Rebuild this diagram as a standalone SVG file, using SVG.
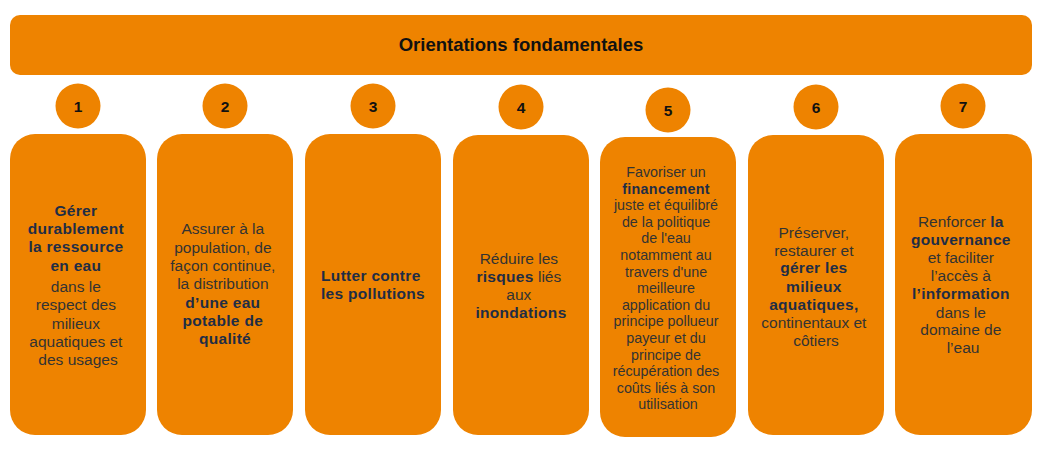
<svg xmlns="http://www.w3.org/2000/svg" width="1040" height="454" viewBox="0 0 1040 454">
<style>
.o{fill:#EE8300}
text{font-family:"Liberation Sans",Arial,sans-serif;text-anchor:middle}
.t{font-size:15.5px;fill:#333333}
.s{font-size:14.3px;fill:#333333}
.b{font-weight:bold;fill:#1F2D45;letter-spacing:0.3px}
.n{font-size:15.5px;font-weight:bold;fill:#111111}
.h{font-size:18.5px;font-weight:bold;fill:#111111}
</style>
<rect width="1040" height="454" fill="#ffffff"/>
<g id="header">
<rect class="o" x="10" y="15" width="1022" height="60" rx="10"/>
<text class="h" x="521" y="51">Orientations fondamentales</text>
</g>
<g id="connectors"></g>
<g id="n1">
<circle class="o" cx="78" cy="106" r="22.5"/>
<text class="n" x="78" y="111.5">1</text>
<rect class="o" x="10" y="134" width="136" height="301" rx="25"/>
<text class="t" x="78">
<tspan class="b" x="78" y="215.5">Gérer</tspan>
<tspan class="b" x="78" y="233.5">durablement</tspan>
<tspan class="b" x="78" y="251.5">la ressource</tspan>
<tspan class="b" x="78" y="270.5">en eau</tspan>
<tspan x="78" y="291.5">dans le</tspan>
<tspan x="78" y="309.5">respect des</tspan>
<tspan x="78" y="328.5">milieux</tspan>
<tspan x="78" y="346.5">aquatiques et</tspan>
<tspan x="78" y="364.5">des usages</tspan>
</text>
</g>
<g id="n2">
<circle class="o" cx="225" cy="106" r="22.5"/>
<text class="n" x="225" y="111.5">2</text>
<rect class="o" x="157" y="134" width="136" height="301" rx="25"/>
<text class="t" x="225">
<tspan x="225" y="233.5">Assurer à la</tspan>
<tspan x="225" y="252.5">population, de</tspan>
<tspan x="225" y="270.5">façon continue,</tspan>
<tspan x="225" y="288.5">la distribution</tspan>
<tspan class="b" x="225" y="307.5">d’une eau</tspan>
<tspan class="b" x="225" y="325.5">potable de</tspan>
<tspan class="b" x="225" y="343.5">qualité</tspan>
</text>
</g>
<g id="n3">
<circle class="o" cx="373" cy="106" r="22.5"/>
<text class="n" x="373" y="111.5">3</text>
<rect class="o" x="305" y="134" width="136" height="301" rx="25"/>
<text class="t" x="373">
<tspan class="b" x="373" y="280.5">Lutter contre</tspan>
<tspan class="b" x="373" y="298.5">les pollutions</tspan>
</text>
</g>
<g id="n4">
<circle class="o" cx="521" cy="107" r="22.5"/>
<text class="n" x="521" y="112.5">4</text>
<rect class="o" x="453" y="135" width="136" height="300" rx="25"/>
<text class="t" x="521">
<tspan x="521" y="263.5">Réduire les</tspan>
<tspan x="521" y="281.5"><tspan class="b">risques</tspan> liés</tspan>
<tspan x="521" y="299.5">aux</tspan>
<tspan class="b" x="521" y="317.5">inondations</tspan>
</text>
</g>
<g id="n5">
<circle class="o" cx="668" cy="110" r="22.5"/>
<text class="n" x="668" y="115.5">5</text>
<rect class="o" x="600" y="137" width="136" height="300" rx="25"/>
<text class="s" x="668">
<tspan x="668" y="177">Favoriser un</tspan>
<tspan class="b" x="668" y="193.6">financement</tspan>
<tspan x="668" y="210.2">juste et équilibré</tspan>
<tspan x="668" y="226.8">de la politique</tspan>
<tspan x="668" y="243.4">de l'eau</tspan>
<tspan x="668" y="260">notamment au</tspan>
<tspan x="668" y="276.6">travers d'une</tspan>
<tspan x="668" y="293.2">meilleure</tspan>
<tspan x="668" y="309.8">application du</tspan>
<tspan x="668" y="326.4">principe pollueur</tspan>
<tspan x="668" y="343">payeur et du</tspan>
<tspan x="668" y="359.6">principe de</tspan>
<tspan x="668" y="376.2">récupération des</tspan>
<tspan x="668" y="392.8">coûts liés à son</tspan>
<tspan x="668" y="409.4">utilisation</tspan>
</text>
</g>
<g id="n6">
<circle class="o" cx="816" cy="107" r="22.5"/>
<text class="n" x="816" y="112.5">6</text>
<rect class="o" x="748" y="135" width="136" height="300" rx="25"/>
<text class="t" x="816">
<tspan x="816" y="237.5">Préserver,</tspan>
<tspan x="816" y="255.5">restaurer et</tspan>
<tspan class="b" x="816" y="272.5">gérer les</tspan>
<tspan class="b" x="816" y="291.5">milieux</tspan>
<tspan class="b" x="816" y="309.5">aquatiques,</tspan>
<tspan x="816" y="327.5">continentaux et</tspan>
<tspan x="816" y="345.5">côtiers</tspan>
</text>
</g>
<g id="n7">
<circle class="o" cx="963" cy="106" r="22.5"/>
<text class="n" x="963" y="111.5">7</text>
<rect class="o" x="895" y="134" width="137" height="301" rx="25"/>
<text class="t" x="963">
<tspan x="963" y="226.5">Renforcer <tspan class="b">la</tspan></tspan>
<tspan class="b" x="963" y="244.5">gouvernance</tspan>
<tspan x="963" y="262.5">et faciliter</tspan>
<tspan x="963" y="280.5">l’accès à</tspan>
<tspan class="b" x="963" y="298.5">l’information</tspan>
<tspan x="963" y="317.5">dans le</tspan>
<tspan x="963" y="334.5">domaine de</tspan>
<tspan x="963" y="352.5">l’eau</tspan>
</text>
</g>
</svg>
